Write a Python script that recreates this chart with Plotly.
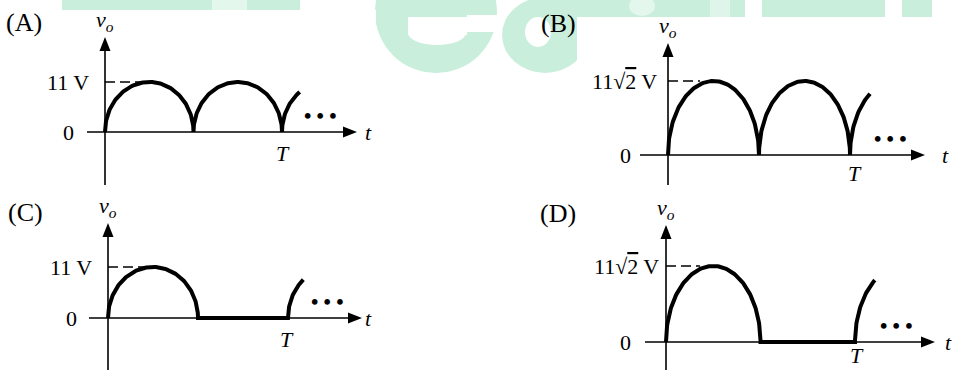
import numpy as np
import plotly.graph_objects as go

W, H = 955, 370

# ---------------- chart content ----------------
panel_tags = ["(A)", "(B)", "(C)", "(D)"]
rectifier = ["full", "full", "half", "half"]
peak_volts = [11.0, 11.0 * np.sqrt(2), 11.0, 11.0 * np.sqrt(2)]
sqrt_label = "11√<span style='text-decoration:overline'>2</span> V"
peak_labels = ["11 V", sqrt_label, "11 V", sqrt_label]
zero_label = "0"
period_label = "<i>T</i>"
time_label = "<i>t</i>"
output_label = "<i>v</i><sub><i>o</i></sub>"
continuation = "<b>• • •</b>"
T = 1.0
tail_span = [0.10, 0.11, 0.085, 0.105]   # part of the next cycle shown after T (units of T)

# ---------------- panel geometry (pixels) ----------------
# box: (left, top, right, bottom) of the panel's axes area
# origin: pixel of (t=0, v=0); t_px: pixels per period; v_px: pixel height of the peak
geom = [
    dict(box=(0, 0, 477, 185), origin=(105, 132), t_px=177, v_px=50,
         x_ext=(87, 357), y_ext=(186, 37), tag=(24, 22), T_dy=-21,
         zero_dx=-29, peak_dx=-14, T_dx=1, t_dx=11, dots_dx=38, dash_px=40),
    dict(box=(477, 0, 955, 185), origin=(668, 155), t_px=182, v_px=74,
         x_ext=(640, 925), y_ext=(187, 43), tag=(558, 23), T_dy=-18,
         zero_dx=-35, peak_dx=-9, T_dx=5, t_dx=20, dots_dx=40, dash_px=32),
    dict(box=(0, 185, 477, 370), origin=(108, 318), t_px=180, v_px=51,
         x_ext=(89, 362), y_ext=(371, 223), tag=(25, 212), T_dy=-21,
         zero_dx=-29, peak_dx=-14, T_dx=-1, t_dx=6, dots_dx=39, dash_px=44),
    dict(box=(477, 185, 955, 370), origin=(666, 342), t_px=189, v_px=76,
         x_ext=(645, 935), y_ext=(371, 225), tag=(558, 213), T_dy=-13,
         zero_dx=-33, peak_dx=-5, T_dx=2, t_dx=13, dots_dx=41, dash_px=34),
]

FONT = "Liberation Serif"
INK = "black"
WM = "#c9efdc"   # watermark green


def px_x(p):
    return p / W


def px_y(p):
    return 1 - p / H


def half_cycle(t0, dur, peak, frac=1.0, n=120):
    th = np.linspace(0.0, np.arccos(1.0 - 2.0 * frac), n)
    return t0 + dur * (1.0 - np.cos(th)) / 2.0, peak * np.sin(th)


def waveform(kind, peak, tail):
    half = T / 2
    xs, ys = [], []
    x, y = half_cycle(0.0, half, peak)
    xs.append(x); ys.append(y)
    if kind == "full":
        x, y = half_cycle(half, half, peak)
    else:
        x, y = np.array([half, T]), np.array([0.0, 0.0])
    xs.append(x); ys.append(y)
    x, y = half_cycle(T, half, peak, frac=tail / half, n=40)
    xs.append(x); ys.append(y)
    return np.concatenate(xs), np.concatenate(ys)


fig = go.Figure()
shapes = []
annotations = []
layout_axes = {}

# ---------------- watermark (background logo) ----------------
def rect_px(x0, y0, x1, y1, color):
    return dict(type="rect", xref="paper", yref="paper", layer="below",
                x0=px_x(x0), x1=px_x(x1), y0=px_y(y1), y1=px_y(y0),
                fillcolor=color, line=dict(width=0))


def ellipse_px(cx, cy, rx, ry, color):
    return dict(type="circle", xref="paper", yref="paper", layer="below",
                x0=px_x(cx - rx), x1=px_x(cx + rx), y0=px_y(cy + ry), y1=px_y(cy - ry),
                fillcolor=color, line=dict(width=0))


wm = [
    rect_px(62, 0, 212, 10, WM),
    rect_px(212, 0, 247, 10, "#e3f7ed"),
    rect_px(247, 0, 300, 10, WM),
    # letter "e"
    ellipse_px(436, 12, 61, 61, WM),
    rect_px(408, 17, 467, 35, "white"),
    ellipse_px(437, 33, 29, 12, "white"),
    rect_px(467, 15, 500, 32, "white"),
    # letter "a"
    ellipse_px(545, 35, 43, 38, WM),
    rect_px(535, -5, 577, 35, WM),
    ellipse_px(538, 32, 13, 15, "white"),
    # letters cut by the upper right panel
    rect_px(577, 0, 745, 17, WM),
    ellipse_px(642, 6, 13, 10, "#e3f7ed"),
    rect_px(710, 0, 730, 17, "#dff5ea"),
    rect_px(762, 0, 885, 17, WM),
    rect_px(902, 0, 932, 17, WM),
    # white panel backgrounds on top of the logo
    rect_px(0, 10, 376, 370, "white"),
    rect_px(577, 17, 955, 370, "white"),
    rect_px(376, 75, 577, 370, "white"),
]
shapes.extend(wm)

# ---------------- panels ----------------
for i, g in enumerate(geom):
    k = i + 1
    xa = "x" if k == 1 else f"x{k}"
    ya = "y" if k == 1 else f"y{k}"
    bx0, by0, bx1, by1 = g["box"]
    ox, oy = g["origin"]
    sx = g["t_px"] / T
    sy = g["v_px"] / peak_volts[i]

    def tx(p, ox=ox, sx=sx):
        return (p - ox) / sx

    def vy(p, oy=oy, sy=sy):
        return (oy - p) / sy

    layout_axes[f"xaxis{'' if k == 1 else k}"] = dict(
        domain=[px_x(bx0), px_x(bx1)], range=[tx(bx0), tx(bx1)],
        visible=False, fixedrange=True, anchor=ya)
    layout_axes[f"yaxis{'' if k == 1 else k}"] = dict(
        domain=[px_y(by1), px_y(by0)], range=[vy(by1), vy(by0)],
        visible=False, fixedrange=True, anchor=xa)

    # output voltage
    t_vals, v_vals = waveform(rectifier[i], peak_volts[i], tail_span[i])
    fig.add_trace(go.Scatter(x=t_vals, y=v_vals, mode="lines", xaxis=xa, yaxis=ya,
                             line=dict(color=INK, width=4), hoverinfo="skip",
                             showlegend=False))

    # axes with arrowheads
    xe0, xe1 = g["x_ext"]
    ye0, ye1 = g["y_ext"]
    shapes.append(dict(type="line", xref=xa, yref=ya, x0=tx(xe0), x1=tx(xe1 - 8),
                       y0=0, y1=0, line=dict(color=INK, width=1.6)))
    shapes.append(dict(type="line", xref=xa, yref=ya, x0=0, x1=0,
                       y0=vy(ye0), y1=vy(ye1 + 8), line=dict(color=INK, width=1.6)))
    hl, hw = 14, 5.5
    shapes.append(dict(type="path", xref=xa, yref=ya, fillcolor=INK, line=dict(width=0),
                       path=(f"M {tx(xe1)},0 L {tx(xe1 - hl)},{hw / sy} "
                             f"L {tx(xe1 - hl)},{-hw / sy} Z")))
    shapes.append(dict(type="path", xref=xa, yref=ya, fillcolor=INK, line=dict(width=0),
                       path=(f"M 0,{vy(ye1)} L {hw / sx},{vy(ye1 + hl)} "
                             f"L {-hw / sx},{vy(ye1 + hl)} Z")))

    # dashed peak level
    shapes.append(dict(type="line", xref=xa, yref=ya, x0=0, x1=g["dash_px"] / sx,
                       y0=peak_volts[i], y1=peak_volts[i],
                       line=dict(color=INK, width=1.3, dash="10px,5px")))

    txt = dict(font=dict(family=FONT, size=22, color=INK), showarrow=False,
               xref=xa, yref=ya)
    annotations += [
        dict(text=zero_label, x=0, y=0, xanchor="right", yanchor="middle",
             xshift=g["zero_dx"], **txt),
        dict(text=peak_labels[i], x=0, y=peak_volts[i], xanchor="right",
             yanchor="middle", xshift=g["peak_dx"], **txt),
        dict(text=period_label, x=T, y=0, xanchor="center", yanchor="middle",
             xshift=g["T_dx"], yshift=g["T_dy"], **txt),
        dict(text=time_label, x=tx(xe1), y=0, xanchor="center", yanchor="middle",
             xshift=g["t_dx"], **txt),
        dict(text=output_label, x=0, y=vy(ye1), xanchor="center", yanchor="bottom",
             yshift=0, **txt),
        dict(text=continuation, x=T, y=0, xanchor="center", yanchor="middle",
             xshift=g["dots_dx"], yshift=16,
             font=dict(family=FONT, size=21, color=INK), showarrow=False,
             xref=xa, yref=ya),
        dict(text=panel_tags[i], x=px_x(g["tag"][0]), y=px_y(g["tag"][1]),
             xref="paper", yref="paper", xanchor="center", yanchor="middle",
             showarrow=False, font=dict(family=FONT, size=26, color=INK)),
    ]

fig.update_layout(
    width=W, height=H, margin=dict(l=0, r=0, t=0, b=0),
    paper_bgcolor="white", plot_bgcolor="rgba(0,0,0,0)",
    shapes=shapes, annotations=annotations, showlegend=False,
    **layout_axes,
)

fig.write_html("out.html", config=dict(displayModeBar=False))
